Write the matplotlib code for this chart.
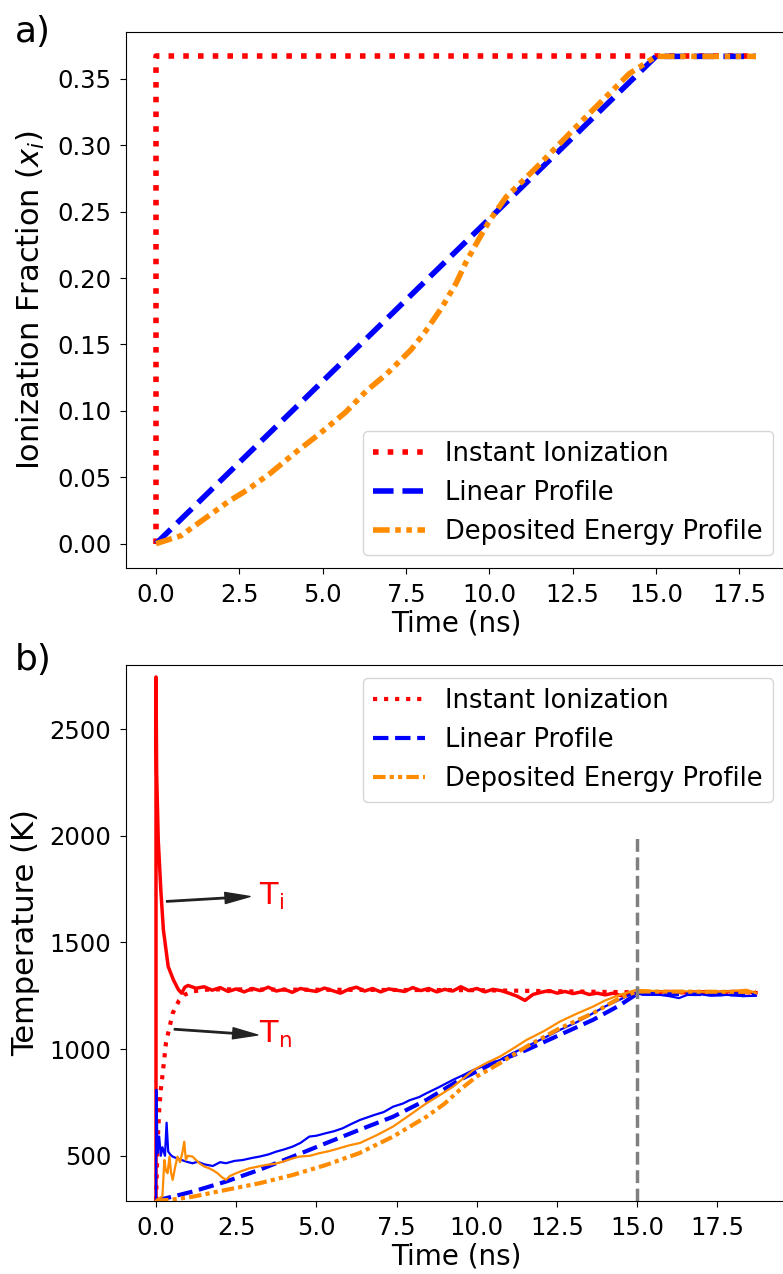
import matplotlib
matplotlib.use("Agg")
import matplotlib.pyplot as plt

# ---- panel a: ionization fraction vs time ----
inst_t = [0, 0, 18]
inst_x = [0, 0.367, 0.367]
lin_t = [0, 15, 18]
lin_x = [0, 0.367, 0.367]
dep_t = [0, 0.75, 1.47, 2.19, 2.71, 3.43, 4.15, 4.87, 5.69, 6.31, 6.93, 7.65,
         8.06, 8.58, 9.0, 9.3, 9.7, 10.0, 10.5, 11.4, 12.8, 14.2, 15.0, 18.0]
dep_x = [0, 0.006, 0.019, 0.032, 0.040, 0.053, 0.068, 0.082, 0.099, 0.115,
         0.128, 0.146, 0.159, 0.178, 0.196, 0.212, 0.230, 0.243, 0.261, 0.283,
         0.319, 0.354, 0.367, 0.367]

# ---- panel b: temperatures vs time ----
# instant ionization, ion temperature (solid)
ii_ti_t = [0, 0, 0.02, 0.07, 0.15, 0.23, 0.38, 0.54, 0.70, 0.80, 0.9, 1.0,
           1.25, 1.5, 1.75, 2.0, 2.25, 2.5, 2.75, 3.0, 3.25, 3.5, 3.75, 4.0,
           4.25, 4.5, 4.75, 5.0, 5.25, 5.5, 5.75, 6.0, 6.25, 6.5, 6.75, 7.0,
           7.25, 7.5, 7.75, 8.0, 8.25, 8.5, 8.75, 9.0, 9.25, 9.5, 9.75, 10.0,
           10.25, 10.5, 10.75, 11.0, 11.25, 11.5, 11.75, 12.0, 12.25, 12.5,
           12.75, 13.0, 13.25, 13.5, 13.75, 14.0, 14.25, 14.5, 14.75, 15.0,
           15.5, 16.0, 16.5, 17.0, 17.5, 18.0, 18.7]
ii_ti_T = [290, 2744, 2292, 1981, 1746, 1559, 1387, 1325, 1278, 1262, 1290, 1298,
           1285, 1292, 1276, 1288, 1270, 1282, 1268, 1284, 1274, 1290, 1272, 1280,
           1266, 1284, 1276, 1270, 1286, 1274, 1262, 1280, 1290, 1272, 1284, 1268,
           1282, 1276, 1270, 1288, 1274, 1284, 1268, 1280, 1272, 1292, 1274, 1284,
           1268, 1280, 1274, 1262, 1248, 1228, 1256, 1266, 1274, 1262, 1270, 1260,
           1268, 1256, 1262, 1254, 1262, 1250, 1258, 1262, 1266, 1270, 1264, 1268,
           1266, 1270, 1264]
# instant ionization, neutral temperature (dotted)
ii_tn_t = [0, 0.05, 0.10, 0.15, 0.21, 0.31, 0.39, 0.52, 0.62, 0.72, 0.88, 1.14,
           1.5, 2.0, 5.0, 10.0, 14.0, 15.0, 18.7]
ii_tn_T = [290, 559, 715, 810, 887, 1028, 1082, 1168, 1199, 1228, 1254, 1270,
           1278, 1280, 1278, 1276, 1268, 1266, 1266]

# linear profile, ion temperature (solid)
lp_ti_t = [0, 0.01, 0.05, 0.1, 0.15, 0.2, 0.28, 0.33, 0.38, 0.45, 0.52, 0.65,
           0.8, 1.0, 1.14, 1.3, 1.5, 1.77, 2.0, 2.18, 2.45, 2.7, 3.0, 3.22, 3.5,
           3.74, 4.0, 4.26, 4.5, 4.78, 5.0, 5.3, 5.55, 5.82, 6.1, 6.36, 6.8,
           7.1, 7.39, 7.7, 7.9, 8.2, 8.43, 8.8, 9.26, 9.6, 9.89, 10.3, 10.72,
           11.1, 11.55, 12.0, 12.59, 13.1, 13.62, 14.0, 14.45, 14.87, 15.2,
           15.7, 16.0, 16.3, 16.7, 17.3, 17.8, 18.3, 18.7]
lp_ti_T = [290, 809, 512, 590, 500, 540, 500, 655, 520, 505, 496, 488,
           480, 470, 465, 472, 460, 452, 470, 465, 476, 480, 490, 496, 506,
           519, 530, 543, 560, 590, 594, 606, 615, 629, 650, 668, 691,
           705, 730, 745, 760, 775, 793, 820, 856, 880, 902, 925, 949,
           980, 1012, 1045, 1090, 1125, 1168, 1200, 1231, 1262, 1255,
           1254, 1248, 1239, 1262, 1250, 1254, 1248, 1250]
# linear profile, neutral temperature (dashed)
lp_tn_t = [0, 0.31, 1.14, 2.18, 3.22, 4.26, 5.30, 6.33, 7.39, 8.43, 9.47,
           10.51, 11.55, 12.59, 13.62, 14.45, 15.0, 18.7]
lp_tn_T = [290, 301, 332, 379, 434, 496, 559, 621, 683, 762, 856,
           934, 996, 1067, 1137, 1205, 1260, 1256]

# deposited energy profile, ion temperature (solid)
de_ti_t = [0, 0.2, 0.26, 0.31, 0.36, 0.42, 0.47, 0.52, 0.6, 0.67, 0.75, 0.83,
           0.88, 0.93, 0.99, 1.14, 1.35, 1.5, 1.66, 1.8, 1.92, 2.05, 2.18, 2.3,
           2.49, 2.7, 2.91, 3.2, 3.43, 3.7, 3.95, 4.2, 4.46, 4.8, 5.09, 5.4,
           5.71, 6.0, 6.36, 6.9, 7.39, 7.9, 8.43, 8.8, 9.26, 9.6, 9.89, 10.3,
           10.72, 11.1, 11.55, 12.1, 12.59, 13.1, 13.62, 14.0, 14.45, 14.98,
           15.7, 16.2, 16.7, 17.2, 17.8, 18.4, 18.7]
de_ti_T = [290, 310, 480, 430, 418, 496, 420, 387, 450, 496, 470, 520,
           566, 480, 500, 496, 465, 450, 441, 430, 418, 400, 387, 405,
           418, 430, 441, 450, 457, 462, 472, 485, 496, 500, 512, 522,
           535, 548, 560, 598, 637, 690, 746, 780, 824, 865, 902, 935,
           965, 1000, 1043, 1085, 1129, 1165, 1199, 1228, 1254, 1278,
           1270, 1272, 1270, 1268, 1270, 1278, 1262]
# deposited energy profile, neutral temperature (dash-dot-dot)
de_tn_t = [0, 0.42, 1.14, 2.18, 3.22, 4.26, 5.30, 6.33, 7.39, 8.43, 9.0,
           9.47, 9.99, 10.72, 11.55, 12.59, 13.62, 14.45, 14.98, 18.7]
de_tn_T = [290, 293, 308, 340, 371, 410, 457, 512, 590, 683, 745,
           809, 871, 934, 1012, 1098, 1168, 1239, 1270, 1268]

plt.rcParams['xtick.labelsize'] = 17.5
plt.rcParams['ytick.labelsize'] = 17.5
plt.rcParams['xtick.major.size'] = 4.5
plt.rcParams['ytick.major.size'] = 4.5
plt.rcParams['xtick.major.pad'] = 6
plt.rcParams['ytick.major.pad'] = 6
plt.rcParams['axes.labelsize'] = 20
plt.rcParams['legend.fontsize'] = 18.5

fig = plt.figure(figsize=(7.83, 12.74), dpi=100)
ax1 = fig.add_axes([126/783, 1-568/1274, 660/783, 536/1274])
ax2 = fig.add_axes([126/783, 1-1201/1274, 660/783, 536/1274])

dashdotdot = (0, (3, 1, 1, 1, 1, 1))

ax1.plot(inst_t, inst_x, color='red', linestyle=':', linewidth=4, label='Instant Ionization')
ax1.plot(lin_t, lin_x, color='blue', linestyle='--', linewidth=4, label='Linear Profile')
ax1.plot(dep_t, dep_x, color='darkorange', linestyle=dashdotdot, linewidth=4,
         label='Deposited Energy Profile')
ax1.set_xlabel('Time (ns)', labelpad=2)
ax1.set_ylabel('Ionization Fraction ($x_i$)', fontsize=22, labelpad=7)
ax1.legend(loc='lower right')

ax2.plot(ii_ti_t, ii_ti_T, color='red', linewidth=2.5)
ax2.plot(ii_tn_t, ii_tn_T, color='red', linestyle=':', linewidth=3, label='Instant Ionization')
ax2.plot(lp_ti_t, lp_ti_T, color='blue', linewidth=1.6)
ax2.plot(lp_tn_t, lp_tn_T, color='blue', linestyle='--', linewidth=3, label='Linear Profile')
ax2.plot(de_ti_t, de_ti_T, color='darkorange', linewidth=1.6)
ax2.plot(de_tn_t, de_tn_T, color='darkorange', linestyle=dashdotdot, linewidth=3,
         label='Deposited Energy Profile')
ax2.vlines(15, 288, 2000, colors='gray', linestyles='--', linewidth=2.5)
ax2.set_ylim(288, 2800)
ax2.set_xlabel('Time (ns)', labelpad=2)
ax2.set_ylabel('Temperature (K)', fontsize=22, labelpad=7)
ax2.legend(loc='upper right')

arrow = dict(facecolor='#222222', edgecolor='#222222', width=1, headwidth=8, headlength=18)
ax2.annotate('', xy=(2.93, 1715), xytext=(0.33, 1692), arrowprops=arrow)
ax2.annotate('', xy=(3.17, 1066), xytext=(0.57, 1093), arrowprops=arrow)
ax2.text(3.2, 1676, r'T$_\mathregular{i}$', color='red', fontsize=22, va='baseline')
ax2.text(3.22, 1028, r'T$_\mathregular{n}$', color='red', fontsize=22, va='baseline')

fig.text(15/783, 1-42/1274, 'a)', fontsize=26, va='baseline')
fig.text(15/783, 1-670/1274, 'b)', fontsize=26, va='baseline')

fig.savefig('out.png', dpi=100)
